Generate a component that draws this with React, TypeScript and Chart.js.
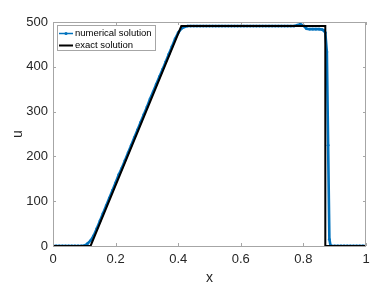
import React, { useEffect, useRef } from "react";
import { Chart, registerables } from "chart.js";

Chart.register(...registerables);

// Exact solution (piecewise linear vertices)
const exactX = [0, 0.12, 0.41, 0.87, 0.87, 1];
const exactU = [0, 0, 491, 491, 0, 0];

// Numerical solution samples
const numX = [
  0, 0.01, 0.02, 0.03, 0.04, 0.05, 0.06, 0.07, 0.08, 0.09,
  0.1, 0.11, 0.12, 0.13, 0.14, 0.15, 0.16, 0.17, 0.18, 0.19,
  0.2, 0.21, 0.22, 0.23, 0.24, 0.25, 0.26, 0.27, 0.28, 0.29,
  0.3, 0.31, 0.32, 0.33, 0.34, 0.35, 0.36, 0.37, 0.38, 0.39,
  0.4, 0.41, 0.42, 0.43, 0.44, 0.45, 0.46, 0.47, 0.48, 0.49,
  0.5, 0.51, 0.52, 0.53, 0.54, 0.55, 0.56, 0.57, 0.58, 0.59,
  0.6, 0.61, 0.62, 0.63, 0.64, 0.65, 0.66, 0.67, 0.68, 0.69,
  0.7, 0.71, 0.72, 0.73, 0.74, 0.75, 0.76, 0.77, 0.78, 0.79,
  0.8, 0.81, 0.82, 0.83, 0.84, 0.85, 0.86, 0.865, 0.87, 0.875,
  0.879, 0.883, 0.887, 0.89, 0.9, 0.91, 0.92, 0.93, 0.94, 0.95,
  0.96, 0.97, 0.98, 0.99, 1,
];
const numU = [
  0, 0, 0, 0, 0, 0, 0, 0, 0, 0,
  1, 5, 12, 23, 39, 56, 73, 90, 107, 124,
  141, 159, 174, 191, 208, 225, 242, 259, 276, 293,
  310, 328, 344, 361, 378, 394, 411, 428, 445, 462,
  476, 485, 489, 491, 491, 491, 491, 491, 491, 491,
  491, 491, 491, 491, 491, 491, 491, 491, 491, 491,
  491, 491, 491, 491, 491, 491, 491, 491, 491, 491,
  491, 491, 491, 491, 491, 491, 491, 491, 493, 495,
  492, 485, 484, 484, 484, 484, 483, 481, 476, 433,
  225, 15, 0, 0, 0, 0, 0, 0, 0, 0,
  0, 0, 0, 0, 0,
];

const xTicks = [0, 0.2, 0.4, 0.6, 0.8, 1];
const xTickLabels = ["0", "0.2", "0.4", "0.6", "0.8", "1"];
const yTicks = [0, 100, 200, 300, 400, 500];

const legendLabels = ["numerical solution", "exact solution"];
const xTitle = "x";
const yTitle = "u";

const BLUE = "rgb(0,114,189)";
const AXIS = "rgb(38,38,38)";
const BOX = "#a6a6a6";
const FONT = "'Liberation Sans', Arial, Helvetica, sans-serif";

const decorPlugin = {
  id: "decor",
  afterDatasetsDraw(chart: any) {
    const { ctx, chartArea: a, scales } = chart;
    const xs = scales.x;
    const ys = scales.y;
    ctx.save();
    ctx.strokeStyle = BOX;
    ctx.lineWidth = 1;
    ctx.strokeRect(a.left + 0.5, a.top + 0.5, a.right - a.left - 1, a.bottom - a.top);
    const tl = 3;
    ctx.beginPath();
    xTicks.forEach((v) => {
      const px = Math.round(xs.getPixelForValue(v)) + 0.5;
      ctx.moveTo(px, a.bottom);
      ctx.lineTo(px, a.bottom - tl);
      ctx.moveTo(px, a.top);
      ctx.lineTo(px, a.top + tl);
    });
    yTicks.forEach((v) => {
      const py = Math.round(ys.getPixelForValue(v)) + 0.5;
      ctx.moveTo(a.left, py);
      ctx.lineTo(a.left + tl, py);
      ctx.moveTo(a.right, py);
      ctx.lineTo(a.right - tl, py);
    });
    ctx.stroke();

    // axis titles
    ctx.fillStyle = AXIS;
    ctx.font = `14px ${FONT}`;
    ctx.textAlign = "center";
    ctx.textBaseline = "middle";
    ctx.fillText(xTitle, (a.left + a.right) / 2, 278);
    ctx.save();
    ctx.translate(18, (a.top + a.bottom) / 2);
    ctx.rotate(-Math.PI / 2);
    ctx.fillText(yTitle, 0, 0);
    ctx.restore();

    // legend
    const lx = 57, ly = 25, lw = 98, lh = 25;
    ctx.fillStyle = "#ffffff";
    ctx.fillRect(lx, ly, lw, lh);
    ctx.strokeStyle = BOX;
    ctx.lineWidth = 1;
    ctx.strokeRect(lx + 0.5, ly + 0.5, lw, lh);
    const rows = [ly + 8.5, ly + 20.5];
    ctx.strokeStyle = BLUE;
    ctx.lineWidth = 1.5;
    ctx.beginPath();
    ctx.moveTo(59, rows[0]);
    ctx.lineTo(73, rows[0]);
    ctx.stroke();
    ctx.fillStyle = BLUE;
    ctx.beginPath();
    ctx.arc(66, rows[0], 1.6, 0, Math.PI * 2);
    ctx.fill();
    ctx.strokeStyle = "#000";
    ctx.lineWidth = 2;
    ctx.beginPath();
    ctx.moveTo(59, rows[1]);
    ctx.lineTo(73, rows[1]);
    ctx.stroke();
    ctx.fillStyle = "#000";
    ctx.font = `9.5px ${FONT}`;
    ctx.textAlign = "left";
    ctx.textBaseline = "middle";
    ctx.fillText(legendLabels[0], 75, rows[0]);
    ctx.fillText(legendLabels[1], 75, rows[1]);
    ctx.restore();
  },
};

export default function App() {
  const ref = useRef<HTMLCanvasElement | null>(null);
  useEffect(() => {
    document.body.style.margin = "0";
    const canvas = ref.current;
    if (!canvas) return;
    const chart = new Chart(canvas, {
      type: "line",
      data: {
        datasets: [
          {
            label: legendLabels[1],
            data: exactX.map((x, i) => ({ x, y: exactU[i] })),
            borderColor: "#000",
            borderWidth: 2,
            pointRadius: 0,
            fill: false,
            tension: 0,
            order: 0,
          },
          {
            label: legendLabels[0],
            data: numX.map((x, i) => ({ x, y: numU[i] })),
            borderColor: BLUE,
            backgroundColor: BLUE,
            borderWidth: 2.6,
            pointRadius: 1.4,
            pointBorderWidth: 0,
            pointBackgroundColor: BLUE,
            fill: false,
            tension: 0,
            order: 1,
          },
        ],
      },
      options: {
        animation: false,
        responsive: false,
        devicePixelRatio: 1,
        layout: { padding: { top: 22, right: 16, left: 0, bottom: 0 } },
        plugins: { legend: { display: false }, tooltip: { enabled: false } },
        scales: {
          x: {
            type: "linear",
            min: 0,
            max: 1,
            afterFit: (s: any) => { s.height = 41; },
            afterBuildTicks: (s: any) => { s.ticks = xTicks.map((v) => ({ value: v })); },
            ticks: {
              callback: (v: any) => xTickLabels[xTicks.findIndex((t) => Math.abs(t - v) < 1e-9)] ?? "",
              font: { family: FONT, size: 13 },
              color: AXIS,
              padding: 6,
              maxRotation: 0,
              autoSkip: false,
            },
            grid: { display: false, drawTicks: false },
            border: { display: false },
          },
          y: {
            type: "linear",
            min: 0,
            max: 500,
            afterFit: (s: any) => { s.width = 53; },
            afterBuildTicks: (s: any) => { s.ticks = yTicks.map((v) => ({ value: v })); },
            ticks: {
              callback: (v: any) => String(v),
              font: { family: FONT, size: 13 },
              color: AXIS,
              padding: 5,
              autoSkip: false,
            },
            grid: { display: false, drawTicks: false },
            border: { display: false },
          },
        },
      },
      plugins: [decorPlugin],
    });
    return () => chart.destroy();
  }, []);
  return (
    <div style={{ position: "absolute", left: 0, top: 0, width: 382, height: 287, background: "#fff" }}>
      <canvas ref={ref} width={382} height={287} />
    </div>
  );
}
